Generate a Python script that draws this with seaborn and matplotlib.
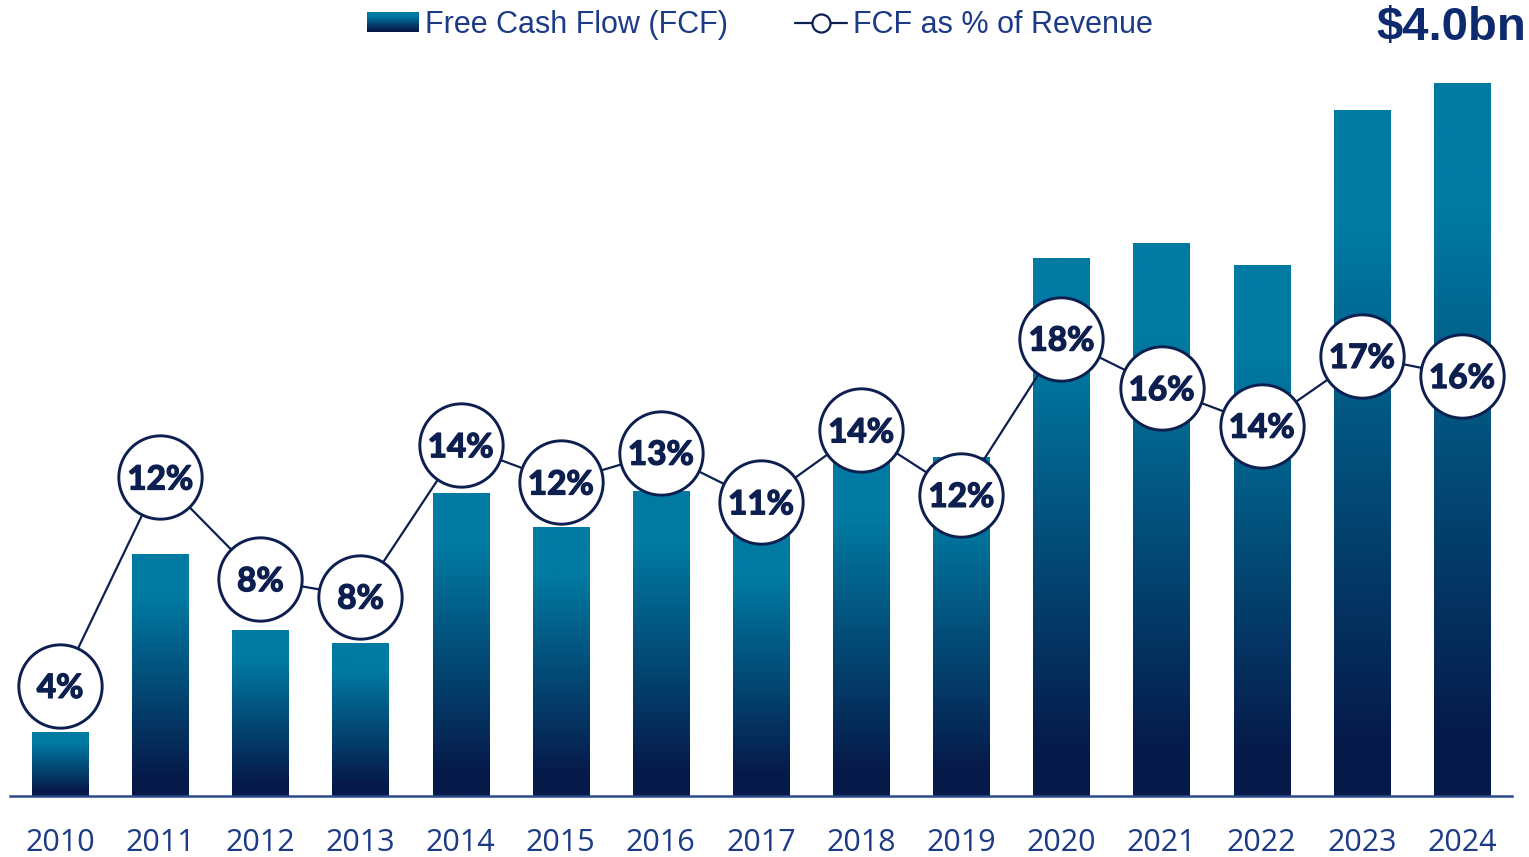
"""FCF bars with FCF margin line, gradient-filled bars."""

import matplotlib.patheffects as pe
import matplotlib.pyplot as plt
import numpy as np
import pandas as pd
import seaborn as sns
from matplotlib.colors import LinearSegmentedColormap
from matplotlib.legend_handler import HandlerBase
from matplotlib.lines import Line2D
from matplotlib.patches import Rectangle

years = ["2010", "2011", "2012", "2013", "2014", "2015", "2016", "2017",
         "2018", "2019", "2020", "2021", "2022", "2023", "2024"]
fcf_bn = [0.36, 1.36, 0.93, 0.86, 1.70, 1.51, 1.71, 1.49,
          1.90, 1.90, 3.02, 3.10, 2.98, 3.85, 4.00]
fcf_pct = [4.0, 12.4, 8.3, 7.6, 13.7, 12.2, 13.4, 11.4,
           14.3, 11.7, 18.0, 16.0, 14.49, 17.3, 16.49]
pct_labels = ["4%", "12%", "8%", "8%", "14%", "12%", "13%", "11%",
              "14%", "12%", "18%", "16%", "14%", "17%", "16%"]
headline = "$4.0bn"

NAVY = "#0c1f4f"
TEAL = "#007aa2"
TEXT_BLUE = "#1d3a86"

# 0 = top of bar (teal), 1 = bottom of bar (navy)
grad = LinearSegmentedColormap.from_list(
    "fcf", [(0.0, TEAL), (0.18, TEAL), (0.92, "#061a4a"), (1.0, "#061a4a")])

df = pd.DataFrame({"year": years, "fcf": fcf_bn, "pct": fcf_pct})

sns.set_theme(style="white")
fig = plt.figure(figsize=(15.29, 8.57), dpi=100)
ax = fig.add_axes([10 / 1529, 61 / 857, 1502 / 1529, 713 / 857])

sns.barplot(data=df, x="year", y="fcf", ax=ax, width=0.56, color=TEAL, saturation=1)

# replace flat fill by a vertical gradient clipped to each bar
g = np.linspace(0, 1, 256).reshape(-1, 1)
for bar in ax.patches:
    x0, w, h = bar.get_x(), bar.get_width(), bar.get_height()
    bar.set_facecolor("none")
    bar.set_edgecolor("none")
    im = ax.imshow(g, cmap=grad, vmin=0, vmax=1, aspect="auto", origin="upper",
                   extent=(x0, x0 + w, 0, h), zorder=1)
    im.set_clip_path(bar)
ax.set_xlim(-0.5, 14.5)
ax.set_ylim(0, 4.0)

for side in ["top", "right", "left"]:
    ax.spines[side].set_visible(False)
ax.spines["bottom"].set_color("#2b4a8c")
ax.spines["bottom"].set_linewidth(1.8)
ax.set_yticks([])
ax.set_xlabel("")
ax.set_ylabel("")
ax.tick_params(axis="x", length=0, pad=23, labelsize=22, labelcolor=TEXT_BLUE)
for lbl in ax.get_xticklabels():
    lbl.set_fontfamily("Open Sans")

ax2 = ax.twinx()
ax2.set_ylim(-0.44, 28.3)
xpos = np.arange(len(years))
sns.lineplot(x=xpos, y=fcf_pct, ax=ax2, color=NAVY, linewidth=1.6,
             marker="o", markersize=60, markerfacecolor="white",
             markeredgecolor=NAVY, markeredgewidth=2.1)
bold = [pe.withStroke(linewidth=1.0, foreground=NAVY)]
for xi, yi, lab in zip(xpos, fcf_pct, pct_labels):
    ax2.text(xi, yi, lab, ha="center", va="center_baseline", fontsize=24,
             fontweight="bold", family="Lato", color=NAVY, path_effects=bold)
ax2.set_axis_off()
ax2.set_xlim(-0.5, 14.5)

fig.text(1526 / 1529, 1 - 28 / 857, headline, ha="right", va="center",
         fontsize=34, fontweight="bold", family="Liberation Sans", color="#0d2a6e")


class GradientHandler(HandlerBase):
    def create_artists(self, legend, orig_handle, xdescent, ydescent,
                       width, height, fontsize, trans):
        strips = []
        n = 12
        for i in range(n):
            # i = 0 is the bottom strip -> navy end of the ramp
            c = grad(1 - (i + 0.5) / n)
            strips.append(Rectangle((-xdescent, -ydescent + height * i / n),
                                    width, height / n + 0.3, facecolor=c,
                                    edgecolor="none", transform=trans))
        return strips


bar_handle = Rectangle((0, 0), 1, 1)
line_handle = Line2D([], [], color=NAVY, linewidth=1.6, marker="o", markersize=13,
                     markerfacecolor="white", markeredgecolor=NAVY, markeredgewidth=1.6)
leg = fig.legend([bar_handle, line_handle],
                 ["Free Cash Flow (FCF)", "FCF as % of Revenue"],
                 handler_map={Rectangle: GradientHandler()},
                 loc="center", bbox_to_anchor=(760 / 1529, 1 - 25 / 857), ncol=2,
                 frameon=False, handlelength=1.7, handleheight=0.6,
                 handletextpad=0.2, columnspacing=2.2,
                 prop={"family": "Liberation Sans", "size": 22})
for t in leg.get_texts():
    t.set_color(TEXT_BLUE)

fig.savefig("out.png", dpi=100)
